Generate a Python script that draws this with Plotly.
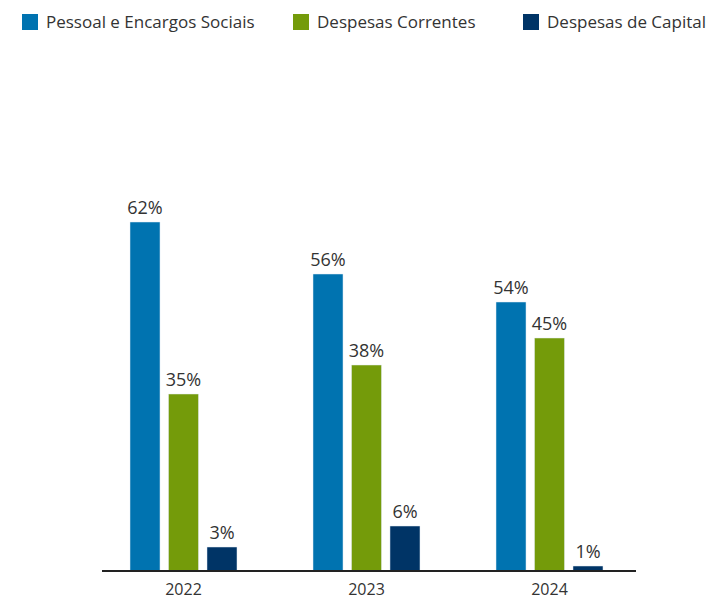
import plotly.graph_objects as go

anos = ["2022", "2023", "2024"]

series = ["Pessoal e Encargos Sociais", "Despesas Correntes", "Despesas de Capital"]
cores = ["#0073b0", "#749b0a", "#003466"]

# altura das barras (valor relativo) e rótulo percentual mostrado
pessoal = [69.8, 59.4, 53.8]
correntes = [35.4, 41.2, 46.6]
capital = [4.8, 9.0, 1.0]

pessoal_pct = ["62%", "56%", "54%"]
correntes_pct = ["35%", "38%", "45%"]
capital_pct = ["3%", "6%", "1%"]

valores = [pessoal, correntes, capital]
rotulos = [pessoal_pct, correntes_pct, capital_pct]

W, H = 713, 601
L, R, T, B = 92, 72, 171, 30


def px(x):
    return (x - L) / (W - L - R)


def py(y):
    return (H - B - y) / (H - T - B)


fig = go.Figure()
for nome, cor, v, r in zip(series, cores, valores, rotulos):
    fig.add_trace(go.Bar(x=anos, y=v, name=nome, marker=dict(color=cor),
                         text=r, textposition="outside", cliponaxis=False,
                         constraintext="none",
                         textfont=dict(size=18, color="#333333")))

# legenda manual no topo
leg_x = [22, 293, 523]
for nome, cor, x0 in zip(series, cores, leg_x):
    fig.add_shape(type="rect", xref="paper", yref="paper",
                  x0=px(x0), x1=px(x0 + 16), y0=py(30), y1=py(14),
                  fillcolor=cor, line=dict(width=0))
    fig.add_annotation(text=nome, xref="paper", yref="paper", x=px(x0 + 22), y=py(22),
                       xanchor="left", yanchor="middle", showarrow=False,
                       font=dict(size=17, color="#333333"))

fig.update_xaxes(showline=False, showgrid=False, ticks="", ticklabelstandoff=7,
                 automargin=False, tickfont=dict(size=16, color="#333333"), range=[-0.5, 2.5])
fig.update_yaxes(visible=False, range=[0, 80], showgrid=False, automargin=False)
fig.add_shape(type="line", xref="paper", yref="paper", x0=px(102), x1=px(636), y0=0, y1=0,
              line=dict(color="#222222", width=2))
fig.update_layout(width=W,
                  height=H,
                  barmode="group",
                  bargap=0.369,
                  bargroupgap=0.22,
                  showlegend=False,
                  font=dict(family="Open Sans", color="#333333"),
                  margin=dict(l=L, r=R, t=T, b=B),
                  plot_bgcolor="white",
                  paper_bgcolor="white",
                  )
fig.write_html("out.html", config={"displayModeBar": False},
               post_script="document.body.style.margin='0';")
